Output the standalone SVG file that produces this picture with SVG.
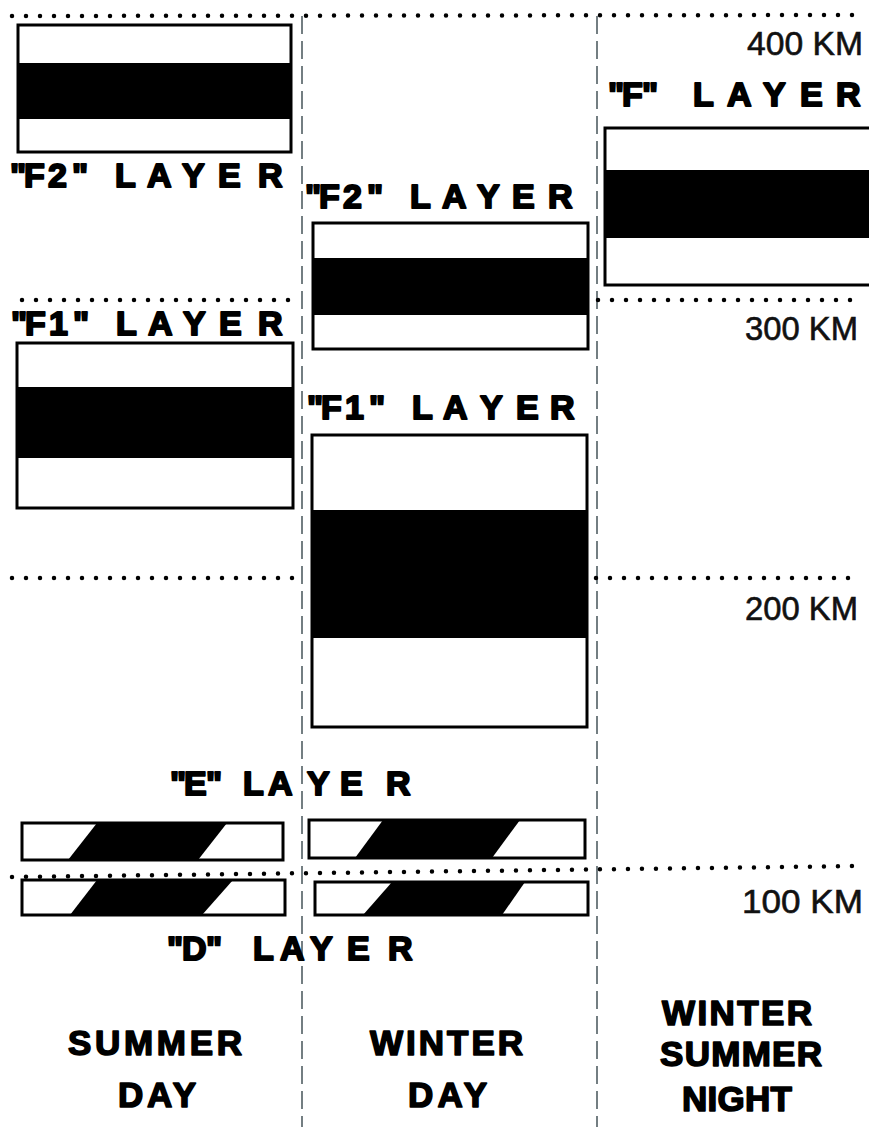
<svg xmlns="http://www.w3.org/2000/svg" width="869" height="1127" viewBox="0 0 869 1127">
<style>
.box{fill:#fff;stroke:#000;stroke-width:3}
.band{fill:#000}
.lbl{font-family:"Liberation Sans",Arial,sans-serif;font-weight:bold;font-size:34px;fill:#000;stroke:#000;stroke-width:2;stroke-linejoin:round}
.km{font-family:"Liberation Sans",Arial,sans-serif;font-size:33px;fill:#111;stroke:#111;stroke-width:0.6}
.col{font-family:"Liberation Sans",Arial,sans-serif;font-weight:bold;font-size:35px;fill:#000;stroke:#000;stroke-width:1.6;stroke-linejoin:round}
.dots{fill:none;stroke:#000;stroke-width:4.5;stroke-linecap:round;stroke-dasharray:0 14}
.div{fill:none;stroke:#2a3a40;stroke-width:1.3;stroke-dasharray:18 7}
</style>
<rect width="869" height="1127" fill="#fff"/>
<g id="guides">
  <line class="div" x1="302" y1="16" x2="302" y2="1127"/>
  <line class="div" x1="597" y1="16" x2="597" y2="1127"/>
  <line class="dots" x1="12" y1="16" x2="858" y2="15"/>
  <line class="dots" x1="22" y1="300" x2="300" y2="300"/>
  <line class="dots" x1="598" y1="300" x2="858" y2="300"/>
  <line class="dots" x1="12" y1="578" x2="300" y2="578"/>
  <line class="dots" x1="596" y1="578" x2="858" y2="578"/>
  <line class="dots" x1="12" y1="877" x2="860" y2="866"/>
</g>
<g id="summer-day-f2">
  <rect class="box" x="18" y="25" width="273" height="127"/>
  <rect class="band" x="18" y="63" width="273" height="56"/>
  <text class="lbl" x="10 24 48 72 92 115 137 147 172 182 206 218 242 258" y="187">"F2" L A Y E R</text>
</g>
<g id="summer-day-f1">
  <text class="lbl" x="11 25 49 73 93 116 138 148 173 183 207 219 243 258" y="335">"F1" L A Y E R</text>
  <rect class="box" x="17" y="343" width="276" height="165"/>
  <rect class="band" x="17" y="387" width="276" height="71"/>
</g>
<g id="winter-day-f2">
  <text class="lbl" x="305 319 343 367 387 410 432 442 467 477 501 512 536 548" y="208">"F2" L A Y E R</text>
  <rect class="box" x="313" y="223" width="275" height="126"/>
  <rect class="band" x="313" y="258" width="275" height="57"/>
</g>
<g id="winter-day-f1">
  <text class="lbl" x="307 321 345 369 389 412 434 443 468 480 504 516 540 550" y="419">"F1" L A Y E R</text>
  <rect class="box" x="312" y="435" width="275" height="292"/>
  <rect class="band" x="312" y="510" width="275" height="128"/>
</g>
<g id="night-f">
  <text class="lbl" x="608 622 642 670 693 715 727 752 763 787 800 824 836" y="106">"F" L A Y E R</text>
  <rect class="box" x="605" y="128" width="280" height="157"/>
  <rect class="band" x="605" y="170" width="280" height="68"/>
</g>
<g id="e-layer">
  <text class="lbl" x="170 184 206 226 243 262 268 295 307 330 340 362 386" y="795">"E" L A Y E R</text>
  <rect class="box" x="22" y="823" width="261" height="37"/>
  <polygon class="band" points="97,823 227,823 198,860 68,860"/>
  <rect class="box" x="309" y="820" width="276" height="38"/>
  <polygon class="band" points="383,820 520,820 492,858 355,858"/>
</g>
<g id="d-layer">
  <rect class="box" x="22" y="880" width="263" height="35"/>
  <polygon class="band" points="97,880 233,880 202,915 70,915"/>
  <rect class="box" x="315" y="882" width="273" height="33"/>
  <polygon class="band" points="392,882 525,882 502,915 363,915"/>
  <text class="lbl" x="167 182 206 226 253 272 280 300 310 335 347 370 388" y="960">"D" L A Y E R</text>
</g>
<g id="altitudes">
  <text class="km" x="747" y="55" textLength="116" lengthAdjust="spacingAndGlyphs">400 KM</text>
  <text class="km" x="745" y="340" textLength="113" lengthAdjust="spacingAndGlyphs">300 KM</text>
  <text class="km" x="745" y="620" textLength="113" lengthAdjust="spacingAndGlyphs">200 KM</text>
  <text class="km" x="742" y="913" textLength="121" lengthAdjust="spacingAndGlyphs">100 KM</text>
</g>
<g id="col-summer-day">
  <text class="col" x="68" y="1055" textLength="174" lengthAdjust="spacing">SUMMER</text>
  <text class="col" x="118" y="1107" textLength="78" lengthAdjust="spacing">DAY</text>
</g>
<g id="col-winter-day">
  <text class="col" x="370" y="1055" textLength="153" lengthAdjust="spacing">WINTER</text>
  <text class="col" x="408" y="1107" textLength="79" lengthAdjust="spacing">DAY</text>
</g>
<g id="col-night">
  <text class="col" x="662" y="1025" textLength="150" lengthAdjust="spacing">WINTER</text>
  <text class="col" x="660" y="1066" textLength="162" lengthAdjust="spacing">SUMMER</text>
  <text class="col" x="682" y="1111" textLength="110" lengthAdjust="spacing">NIGHT</text>
</g>
</svg>
